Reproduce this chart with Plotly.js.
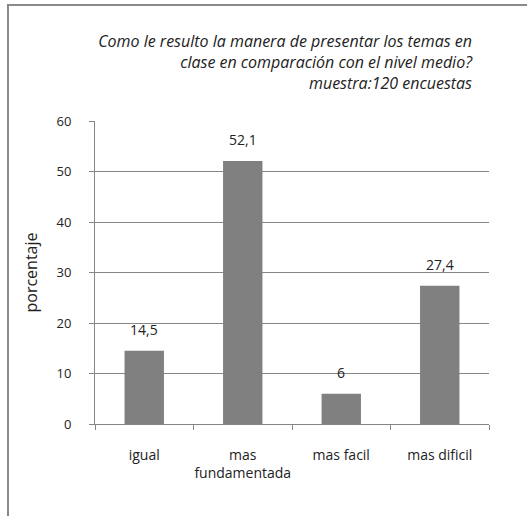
<!DOCTYPE html>
<html>
<head>
<meta charset="utf-8">
<script src="https://cdn.plot.ly/plotly-3.0.1.min.js"></script>
<style>
html,body{margin:0;padding:0;background:#fff;}
#chart{width:527px;height:516px;}
</style>
</head>
<body>
<div id="chart"></div>
<script>
var categories = ['igual', 'mas<br>fundamentada', 'mas facil', 'mas dificil'];
var values = [14.5, 52.1, 6, 27.4];
var valueLabels = ['14,5', '52,1', '6', '27,4'];
var titleLines = ['Como le resulto la manera de presentar los temas en', 'clase en comparación con el nivel medio?', 'muestra:120 encuestas'];
var yTicks = [0, 10, 20, 30, 40, 50, 60];

var FONT = 'Open Sans, Liberation Sans, sans-serif';
var GRAY = '#868686';

var trace = {
  type: 'bar',
  x: categories,
  y: values,
  width: 0.4,
  marker: {color: '#808080', line: {width: 0}},
  hoverinfo: 'none'
};

var annotations = categories.map(function(c, i) {
  return {
    x: c, y: values[i], xref: 'x', yref: 'y',
    text: valueLabels[i], showarrow: false,
    yanchor: 'bottom', yshift: 10,
    font: {family: FONT, size: 14, color: '#222'}
  };
});

var layout = {
  width: 527, height: 516,
  margin: {l: 95, r: 38, t: 121, b: 92},
  paper_bgcolor: '#fff', plot_bgcolor: '#fff',
  showlegend: false,
  title: {
    text: titleLines.join('<br>'),
    x: 472 / 527, xanchor: 'right', xref: 'container',
    y: 1 - 47 / 516, yanchor: 'top', yref: 'container',
    font: {family: FONT, size: 16, style: 'italic', color: '#222'}
  },
  xaxis: {
    type: 'category',
    tickson: 'boundaries',
    tickangle: 0,
    automargin: false,
    ticks: 'outside', ticklen: 5, tickcolor: GRAY, tickwidth: 1,
    showline: true, linecolor: GRAY, linewidth: 1,
    showgrid: false,
    ticklabelstandoff: 18,
    tickfont: {family: FONT, size: 14, color: '#222'}
  },
  yaxis: {
    range: [0, 60],
    tickvals: yTicks,
    ticktext: yTicks.map(String),
    ticks: 'outside', ticklen: 5, tickcolor: GRAY, tickwidth: 1,
    showline: true, linecolor: GRAY, linewidth: 1,
    showgrid: true, gridcolor: GRAY, gridwidth: 1,
    zeroline: false,
    automargin: false,
    ticklabelstandoff: 15,
    tickfont: {family: FONT, size: 13, color: '#222'},
    title: {text: 'porcentaje', standoff: 14, font: {family: FONT, size: 16, color: '#222'}}
  },
  annotations: annotations,
  shapes: [{
    type: 'rect', xref: 'paper', yref: 'paper',
    x0: (8 - 95) / 394, x1: (535 - 95) / 394,
    y0: -0.4, y1: 1 + (121 - 5) / 303,
    line: {color: '#8a8a8a', width: 2}, layer: 'below'
  }]
};

Plotly.newPlot('chart', [trace], layout, {displayModeBar: false, staticPlot: true});
</script>
</body>
</html>
